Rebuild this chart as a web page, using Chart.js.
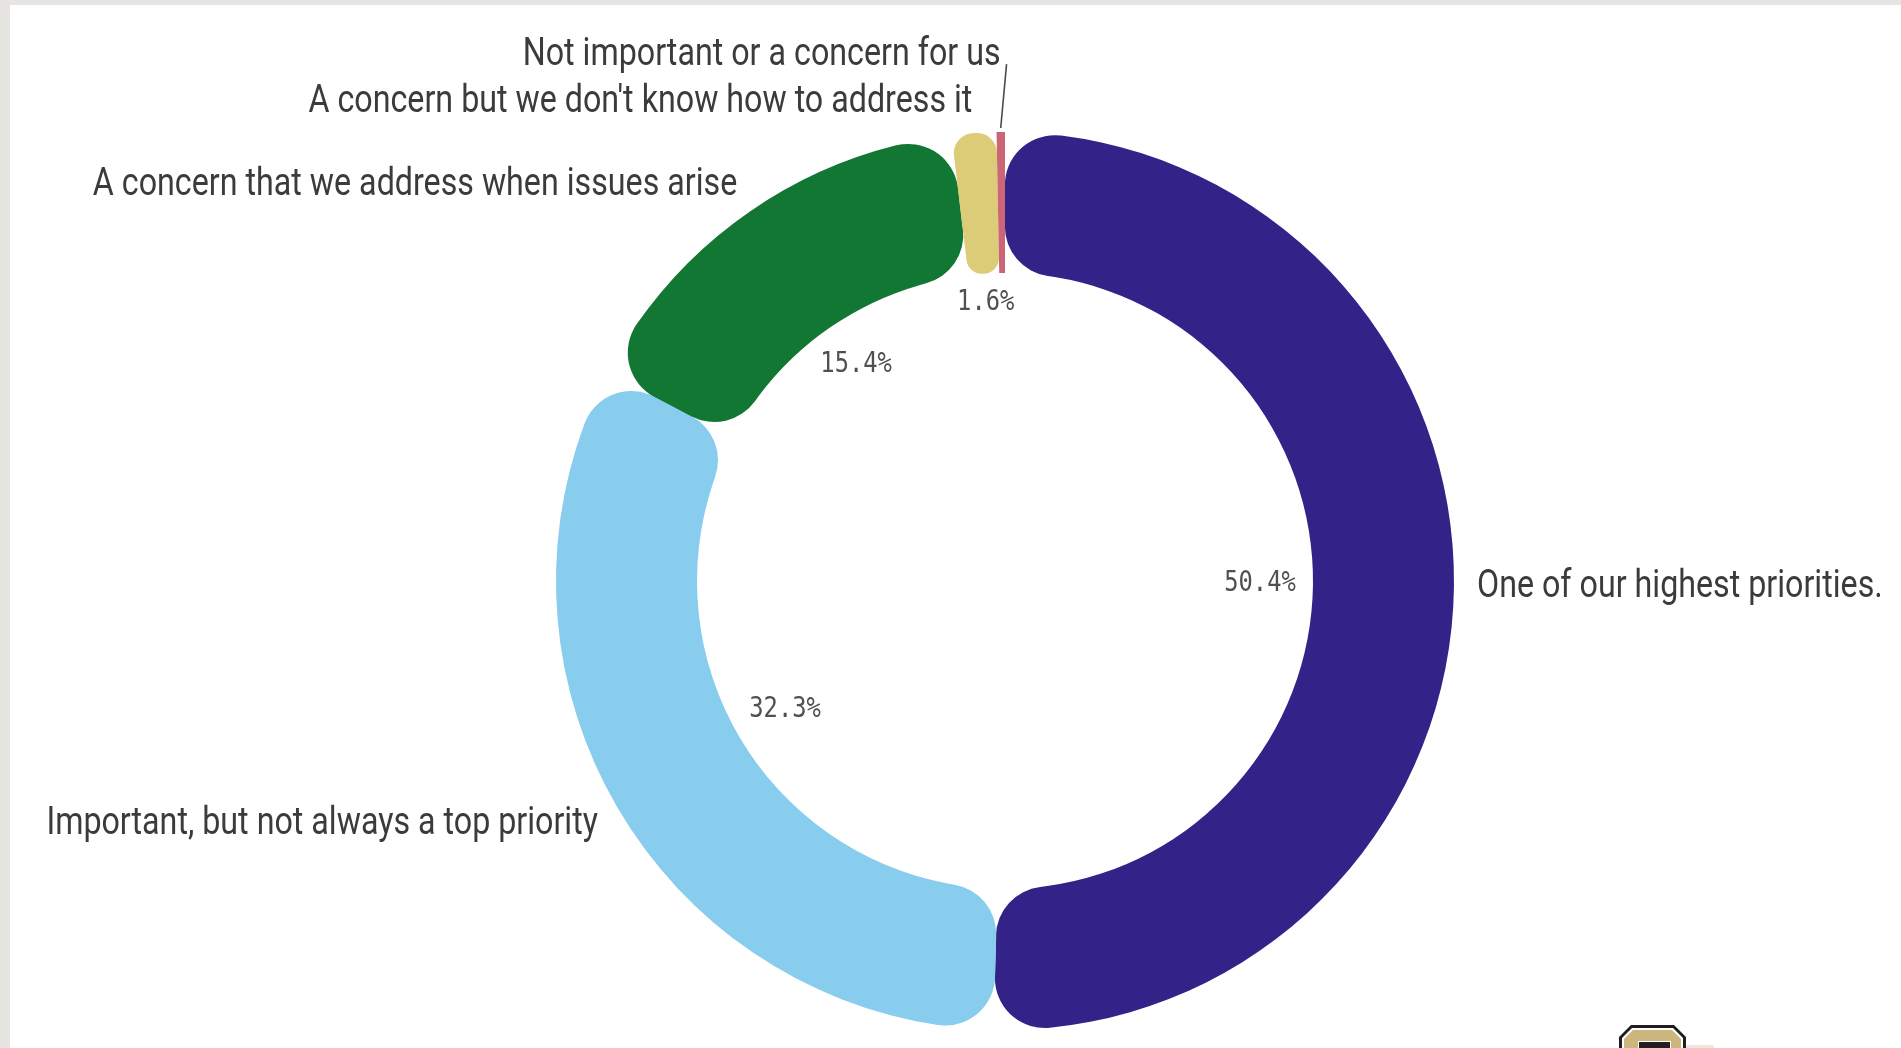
<!DOCTYPE html>
<html>
<head>
<meta charset="utf-8">
<script src="https://cdn.jsdelivr.net/npm/chart.js@4/dist/chart.umd.min.js"></script>
<style>
html,body{margin:0;padding:0;width:1901px;height:1048px;overflow:hidden;background:#e6e5e2;}
#panel{position:absolute;left:10px;top:5px;right:0;bottom:0;background:#ffffff;}
#wrap{position:absolute;left:0;top:0;width:1901px;height:1048px;}
#logoOuter{position:absolute;left:1619px;top:1025px;width:67px;height:30px;background:#1e1e1e;
  clip-path:polygon(12px 0,55px 0,67px 12px,67px 100%,0 100%,0 12px);}
#logoRim{position:absolute;left:3px;top:3px;right:3px;bottom:0;background:#ffffff;
  clip-path:polygon(10px 0,51px 0,61px 10px,61px 100%,0 100%,0 10px);}
#logoGold{position:absolute;left:2px;top:2px;right:2px;bottom:0;background:#cdb57e;
  clip-path:polygon(9px 0,48px 0,57px 9px,57px 100%,0 100%,0 9px);}
#logoInner{position:absolute;left:14px;top:11px;width:31px;height:20px;background:#231f20;border:1px solid #fff;}
#logoBar{position:absolute;left:1686px;top:1045px;width:28px;height:3px;background:#ece8dc;}
</style>
</head>
<body>
<div id="panel"></div>
<div id="logoOuter"><div id="logoRim"><div id="logoGold"><div id="logoInner"></div></div></div></div>
<div id="logoBar"></div>
<div id="wrap"><canvas id="c" width="1901" height="1048"></canvas></div>
<script>
// ---- data ----
const categories = [
  "One of our highest priorities.",
  "Important, but not always a top priority",
  "A concern that we address when issues arise",
  "A concern but we don't know how to address it",
  "Not important or a concern for us"
];
const values = [50.4, 32.3, 15.4, 1.6, 0.3];
const colors = ["#332288", "#88CCEE", "#117733", "#DDCC77", "#CC6677"];
const valueLabels = values.map(v => v >= 1 ? v.toFixed(1) + "%" : "");

// ---- layout / style ----
const W = 1901, H = 1048;
const CX = 1005, CY = 581, R = 449, RIN = 308;
const OUT_FONT = '39px Roboto, "Liberation Sans", sans-serif';
const OUT_SX = 0.826;
const OUT_COLOR = "#3b3b3b";
const PCT_FONT = '28px "DejaVu Sans Mono", monospace';
const PCT_SX = 0.85;
const PCT_COLOR = "#505050";

function drawScaled(ctx, text, x, y, align, sx) {
  ctx.save();
  ctx.translate(x, y);
  ctx.scale(sx, 1);
  ctx.textAlign = align;
  ctx.fillText(text, 0, 0);
  ctx.restore();
}

const labelPlugin = {
  id: "donutLabels",
  afterDraw(chart) {
    const ctx = chart.ctx;
    const meta = chart.getDatasetMeta(0);
    const outer = [];
    meta.data.forEach((arc, i) => {
      const p = arc.getProps(["x", "y", "startAngle", "endAngle", "outerRadius", "innerRadius"], true);
      const mid = (p.startAngle + p.endAngle) / 2;
      const c = Math.cos(mid), s = Math.sin(mid);
      // inner percentage label
      if (valueLabels[i]) {
        ctx.save();
        ctx.font = PCT_FONT;
        ctx.fillStyle = PCT_COLOR;
        ctx.textBaseline = "middle";
        const w = ctx.measureText(valueLabels[i]).width * PCT_SX;
        const h = 20;
        const ext = Math.abs(c) * w / 2 + Math.abs(s) * h / 2;
        const r = p.innerRadius - 17 - ext;
        drawScaled(ctx, valueLabels[i], p.x + c * r, p.y + s * r, "center", PCT_SX);
        ctx.restore();
      }
      // outer category label anchor
      const ro = p.outerRadius + 23;
      const px = p.x + c * ro;
      const py = p.y + s * (ro + 8);
      outer.push({ i, c, s, px, py, y: py, arc: p, left: c < 0 });
    });
    // resolve overlaps on left side (push upward)
    const lefts = outer.filter(o => o.left).sort((a, b) => b.py - a.py);
    const GAP = 47;
    for (let k = 1; k < lefts.length; k++) {
      const prev = lefts[k - 1];
      if (lefts[k].y > prev.y - GAP) {
        lefts[k].y = prev.y - GAP;
        lefts[k].leader = true;
      }
    }
    ctx.save();
    ctx.font = OUT_FONT;
    ctx.fillStyle = OUT_COLOR;
    ctx.textBaseline = "middle";
    outer.forEach(o => {
      if (o.leader) {
        const a = o.arc;
        const mid = (a.startAngle + a.endAngle) / 2;
        ctx.save();
        ctx.strokeStyle = "#4a4a4a";
        ctx.lineWidth = 1.6;
        ctx.beginPath();
        ctx.moveTo(a.x + Math.cos(mid) * (a.outerRadius + 4), a.y + Math.sin(mid) * (a.outerRadius + 4));
        ctx.lineTo(o.px + 6, o.y + 9);
        ctx.stroke();
        ctx.restore();
      }
      drawScaled(ctx, categories[o.i], o.px, o.y, o.left ? "right" : "left", OUT_SX);
    });
    ctx.restore();
  }
};

new Chart(document.getElementById("c").getContext("2d"), {
  type: "doughnut",
  data: {
    labels: categories,
    datasets: [{
      data: values,
      backgroundColor: colors,
      borderWidth: 0,
      borderRadius: (cx) => (values[cx.dataIndex] < 1 ? 0 : 50),
      spacing: 0,
      hoverOffset: 0
    }]
  },
  options: {
    responsive: false,
    animation: false,
    events: [],
    cutout: (RIN / R * 100) + "%",
    layout: { padding: { left: CX - R, right: W - CX - R, top: CY - R, bottom: H - CY - R } },
    plugins: { legend: { display: false }, tooltip: { enabled: false } }
  },
  plugins: [labelPlugin]
});
</script>
</body>
</html>
